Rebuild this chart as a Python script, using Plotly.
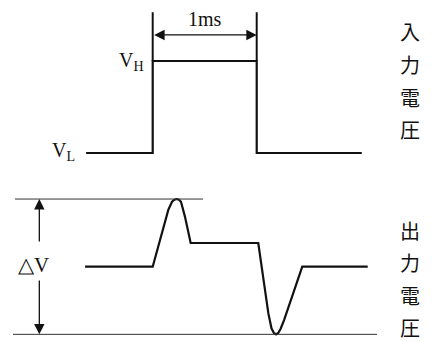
import plotly.graph_objects as go

# input pulse (time in ms, level: 0 = VL, 1 = VH)
in_t = [-0.64, 0.0, 0.0, 1.0, 1.0, 2.01]
in_v = [0, 0, 1, 1, 0, 0]

# output voltage response (arbitrary units, +-1 = peak / trough)
out_t = [-0.65, 0.0, 0.150, 0.186, 0.209, 0.231, 0.252, 0.272, 0.310, 0.365,
         1.015, 1.112, 1.142, 1.165, 1.186, 1.207, 1.229, 1.263, 1.438, 2.067]
out_v = [0.0, 0.0, 0.84, 0.96, 0.99, 1.0, 0.99, 0.96, 0.74, 0.35,
         0.35, -0.69, -0.91, -0.98, -1.0, -0.98, -0.92, -0.79, 0.0, 0.0]

# reference lines for delta V
dv_top_t = [-1.324, 0.484]
dv_bot_t = [-1.343, 2.157]
dv_levels = [1.0, -1.0]

pulse_width_ms = 1.0
in_labels = ["入", "力", "電", "圧"]
out_labels = ["出", "力", "電", "圧"]

W, H = 435, 342
BLACK = "#111111"
SERIF = "Liberation Serif"
CJK = "Noto Sans CJK JP"

fig = go.Figure()

# top panel (yaxis) : input pulse
fig.add_trace(go.Scatter(x=in_t, y=in_v, mode="lines",
                         line=dict(color=BLACK, width=2.2), yaxis="y"))
# marker lines for the pulse width
for t in [0.0, pulse_width_ms]:
    fig.add_trace(go.Scatter(x=[t, t], y=[1.0, 1.53], mode="lines",
                             line=dict(color=BLACK, width=2), yaxis="y"))

# bottom panel (yaxis2) : output voltage
fig.add_trace(go.Scatter(x=out_t, y=out_v, mode="lines",
                         line=dict(color=BLACK, width=2.2), yaxis="y2"))
fig.add_trace(go.Scatter(x=dv_top_t, y=[dv_levels[0]] * 2, mode="lines",
                         line=dict(color="#333333", width=1), yaxis="y2"))
fig.add_trace(go.Scatter(x=dv_bot_t, y=[dv_levels[1]] * 2, mode="lines",
                         line=dict(color="#333333", width=1), yaxis="y2"))
fig.update_traces(hoverinfo="skip")

annotations = []
# 1ms double arrow
annotations.append(dict(x=pulse_width_ms, y=1.283, ax=0.0, ay=1.283,
                        xref="x", yref="y", axref="x", ayref="y",
                        text="", showarrow=True, arrowside="end+start",
                        arrowhead=2, arrowsize=1.6, arrowwidth=1.3, arrowcolor=BLACK))
annotations.append(dict(x=pulse_width_ms / 2, y=1.46, xref="x", yref="y",
                        xanchor="center", yanchor="middle",
                        text="1ms", showarrow=False,
                        font=dict(family=SERIF, size=20, color=BLACK)))
annotations.append(dict(x=-0.06, y=1.0, xref="x", yref="y",
                        xanchor="right", yanchor="middle",
                        text="V<sub>H</sub>", showarrow=False,
                        font=dict(family=SERIF, size=20, color=BLACK)))
annotations.append(dict(x=-0.73, y=0.02, xref="x", yref="y",
                        xanchor="right", yanchor="middle",
                        text="V<sub>L</sub>", showarrow=False,
                        font=dict(family=SERIF, size=20, color=BLACK)))

# delta V arrows
dv_t = -1.09
annotations.append(dict(x=dv_t, y=dv_levels[0], ax=dv_t, ay=0.35,
                        xref="x", yref="y2", axref="x", ayref="y2",
                        text="", showarrow=True, arrowhead=2, arrowsize=1.6,
                        arrowwidth=1.3, arrowcolor=BLACK))
annotations.append(dict(x=dv_t, y=dv_levels[1], ax=dv_t, ay=-0.18,
                        xref="x", yref="y2", axref="x", ayref="y2",
                        text="", showarrow=True, arrowhead=2, arrowsize=1.6,
                        arrowwidth=1.3, arrowcolor=BLACK))
annotations.append(dict(x=dv_t - 0.06, y=0.02, xref="x", yref="y2",
                        xanchor="center", yanchor="middle",
                        text="△V", showarrow=False,
                        font=dict(family=SERIF, size=21, color=BLACK)))

# vertical captions on the right
for i, ch in enumerate(in_labels):
    annotations.append(dict(x=410 / W, y=1 - (31 + 33 * i) / H, xref="paper", yref="paper",
                            xanchor="center", yanchor="middle",
                            text=ch, showarrow=False,
                            font=dict(family=CJK, size=20, color=BLACK)))
for i, ch in enumerate(out_labels):
    annotations.append(dict(x=410 / W, y=1 - (230 + 32.5 * i) / H, xref="paper", yref="paper",
                            xanchor="center", yanchor="middle",
                            text=ch, showarrow=False,
                            font=dict(family=CJK, size=20, color=BLACK)))

fig.update_layout(
    width=W, height=H,
    margin=dict(l=0, r=0, t=0, b=0),
    paper_bgcolor="white", plot_bgcolor="white",
    showlegend=False,
    hovermode=False,
    xaxis=dict(range=[-1.468, 2.714], visible=False, fixedrange=True),
    yaxis=dict(range=[-2.054, 1.663], visible=False, fixedrange=True, domain=[0, 1]),
    yaxis2=dict(range=[-1.113, 3.942], visible=False, fixedrange=True,
                domain=[0, 1], overlaying="y"),
    annotations=annotations,
)

# drop the default page margin so the figure sits at the window's corner
fig.write_html("out.html", config={"displayModeBar": False},
               post_script="document.body.style.margin='0px';")
